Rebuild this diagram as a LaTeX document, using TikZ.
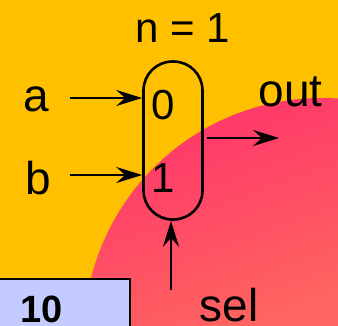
\documentclass[tikz,border=0pt]{standalone}
\usepackage{fontspec}
\setmainfont{Liberation Sans}
\usetikzlibrary{arrows.meta}
\definecolor{bgorange}{HTML}{FFC000}
\definecolor{pinktop}{HTML}{FF2A6C}
\definecolor{pinkbot}{HTML}{FF6460}
\definecolor{boxblue}{HTML}{C3CBFF}
\tikzset{
  lbl/.style={anchor=base, inner sep=0pt, font=\fontsize{46}{50}\selectfont},
  digit/.style={anchor=base, inner sep=0pt, font=\fontsize{42}{46}\selectfont},
  arr/.style={line width=2.6pt, -{Stealth[length=26pt,width=16pt,inset=9pt]}},
  muxbox/.style={draw, line width=2.6pt, rounded corners=29pt, minimum width=59pt, minimum height=158pt, inner sep=0pt}
}
\begin{document}
\begin{tikzpicture}[x=1pt,y=-1pt]
\useasboundingbox (0,0) rectangle (338,326);
\fill[bgorange] (0,0) rectangle (338,326);
\begin{scope}
  \clip (0,0) rectangle (338,326);
  \clip (322,336) circle (238);
  \shade[top color=pinktop, bottom color=pinkbot, shading angle=20] (0,80) rectangle (338,330);
\end{scope}
% box with 10
\draw[line width=2.2pt, fill=boxblue] (-5,279) rectangle (130,332);
\node[anchor=base, inner sep=0pt, font=\fontsize{38}{40}\selectfont\bfseries] (ten) at (42,323) {10};
% mux
\node[muxbox] (mux) at (173,140.5) {};
\node[digit] (d0) at (163.5,120) {0};
\node[digit] (d1) at (163,193) {1};
% labels
\node[lbl, font=\fontsize{42}{46}\selectfont] (n) at (182.5,43) {n = 1};
\node[lbl] (a) at (36,112) {a};
\node[lbl] (b) at (38.5,195) {b};
\node[lbl] (out) at (290.5,107) {out};
\node[lbl] (sel) at (229,322) {sel};
% arrows
\coordinate (ca) at (70,98);
\coordinate (cb) at (70,175);
\coordinate (co) at (279,138);
\coordinate (cs) at (171,290);
\draw[arr] (ca) -- (ca -| mux.west);
\draw[arr] (cb) -- (cb -| mux.west);
\draw[arr, shorten <=3pt] (co -| mux.east) -- (co);
\draw[arr] (cs) -- (cs |- mux.south);
\end{tikzpicture}
\end{document}
